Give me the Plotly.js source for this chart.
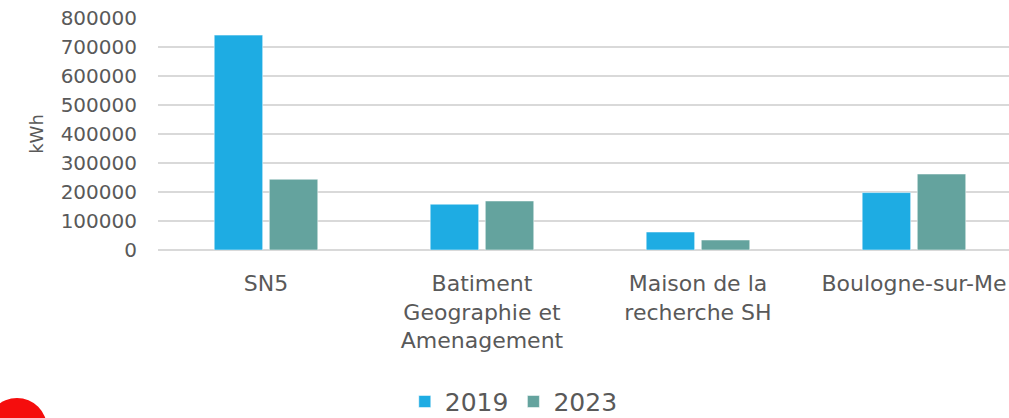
<!DOCTYPE html>
<html>
<head>
<meta charset="utf-8">
<script src="https://cdn.plot.ly/plotly-3.0.1.min.js"></script>
<style>
  html, body { margin: 0; padding: 0; background: #ffffff; overflow: hidden; }
  #chart { width: 1009px; height: 418px; }
</style>
</head>
<body>
<div id="chart"></div>
<script>
const categories = ["SN5", "Batiment<br>Geographie et<br>Amenagement", "Maison de la<br>recherche SH", "Boulogne-sur-Me"];
const seriesNames = ["2019", "2023"];
const values2019 = [741000, 158000, 62000, 198000];
const values2023 = [244000, 169000, 34500, 262000];
const yTickVals = [0, 100000, 200000, 300000, 400000, 500000, 600000, 700000, 800000];
const yTickText = ["0", "100000", "200000", "300000", "400000", "500000", "600000", "700000", "800000"];
const yTitle = "kWh";

const textColor = "#595959";
const fontFamily = "DejaVu Sans, Verdana, sans-serif";

const traces = [
  {
    type: "bar", name: seriesNames[0], x: categories, y: values2019,
    marker: { color: "#1eace3", line: { color: "rgba(255,255,255,0.5)", width: 1 } },
    hoverinfo: "skip"
  },
  {
    type: "bar", name: seriesNames[1], x: categories, y: values2023,
    marker: { color: "#64a39e", line: { color: "rgba(255,255,255,0.5)", width: 1 } },
    hoverinfo: "skip"
  }
];

const layout = {
  width: 1009, height: 418,
  margin: { l: 158, r: 0, t: 18, b: 168, pad: 0, autoexpand: false },
  paper_bgcolor: "#ffffff", plot_bgcolor: "#ffffff",
  barmode: "group", bargap: 0.49, bargroupgap: 0.12,
  font: { family: fontFamily, color: textColor, size: 20 },
  xaxis: {
    type: "category", range: [-0.5, 3.44],
    showgrid: false, zeroline: false, showline: false, ticks: "",
    tickfont: { size: 22, color: textColor, family: fontFamily },
    ticklabelstandoff: 18, fixedrange: true
  },
  yaxis: {
    range: [0, 800000], tickvals: yTickVals, ticktext: yTickText,
    showgrid: true, gridcolor: "#d9d9d9", gridwidth: 1.2,
    zeroline: true, zerolinecolor: "#d9d9d9", zerolinewidth: 1.2,
    showline: false, ticks: "",
    tickfont: { size: 20, color: textColor, family: fontFamily },
    ticklabelstandoff: 20,
    title: { text: yTitle, font: { size: 18, color: textColor, family: fontFamily }, standoff: 12 },
    fixedrange: true
  },
  showlegend: true,
  legend: {
    orientation: "h", x: 0.29, xanchor: "left", y: -0.555, yanchor: "top",
    font: { size: 25, color: textColor, family: fontFamily },
    itemwidth: 30, tracegroupgap: 0, bgcolor: "rgba(0,0,0,0)"
  },
  shapes: [
    {
      type: "circle", xref: "paper", yref: "paper",
      xsizemode: "pixel", ysizemode: "pixel", xanchor: 0, yanchor: 0,
      x0: -171, x1: -111, y0: -208, y1: -148,
      fillcolor: "#f50d0d", line: { width: 0 }, layer: "above"
    }
  ]
};

Plotly.newPlot("chart", traces, layout, { displayModeBar: false, staticPlot: true });
</script>
</body>
</html>
